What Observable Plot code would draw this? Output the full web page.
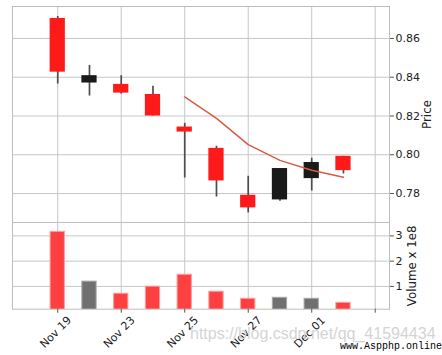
<!DOCTYPE html>
<html>
<head>
<meta charset="utf-8">
<script src="https://cdn.jsdelivr.net/npm/d3@7"></script>
<script src="https://cdn.jsdelivr.net/npm/@observablehq/plot@0.6"></script>
<style>
  html, body { margin: 0; padding: 0; background: #fff; }
  #wrap { position: relative; width: 442px; height: 355px; overflow: hidden; font-family: "DejaVu Sans", sans-serif; }
  #wrap svg { position: absolute; left: 0; background: transparent; }
  .wm1 { position: absolute; left: 190px; top: 325px; font-family: "Liberation Sans", Arial, sans-serif; font-size: 16px; color: #d4d4d4; white-space: nowrap; }
  .wm2 { position: absolute; left: 340px; top: 341px; font-family: "Liberation Mono", monospace; font-size: 10px; color: #000; white-space: nowrap; }
</style>
</head>
<body>
<div id="wrap"></div>
<script>
// ---- data ----
const dates  = ["Nov 19","Nov 20","Nov 23","Nov 24","Nov 25","Nov 26","Nov 27","Nov 30","Dec 01","Dec 02"];
const open   = [0.8703, 0.8370, 0.8363, 0.8311, 0.8143, 0.8033, 0.7791, 0.7767, 0.7877, 0.7992];
const high   = [0.8713, 0.8461, 0.8408, 0.8353, 0.8162, 0.8044, 0.7889, 0.7929, 0.7982, 0.7992];
const low    = [0.8365, 0.8303, 0.8313, 0.8200, 0.7880, 0.7782, 0.7700, 0.7760, 0.7813, 0.7901];
const close  = [0.8426, 0.8408, 0.8318, 0.8200, 0.8117, 0.7865, 0.7726, 0.7929, 0.7960, 0.7918];
const volume = [3.16e8, 1.19e8, 0.71e8, 0.99e8, 1.46e8, 0.79e8, 0.51e8, 0.55e8, 0.51e8, 0.35e8];
const maIndex = [4, 5, 6, 7, 8, 9];
const maValue = [0.8298, 0.8188, 0.8052, 0.7971, 0.7920, 0.7884];
const xTicks = [0, 2, 4, 6, 8, 10];
const priceTicks = [0.78, 0.80, 0.82, 0.84, 0.86];
const volumeTicks = [1e8, 2e8, 3e8];

const rows = dates.map((d, i) => ({i, date: d, open: open[i], high: high[i], low: low[i], close: close[i], volume: volume[i]}));
const ma = maIndex.map((i, k) => ({i, v: maValue[k]}));

const RED = "#ff1a1a", BLACK = "#1a1a1a", WICK = "#4d4d4d", GRID = "#c6c6c6", FRAME = "#bdbdbd";
const common = {width: 442, marginLeft: 12, marginRight: 53,
  style: {fontFamily: "DejaVu Sans, sans-serif", fontSize: "11px", color: "#222", background: "transparent"}};

const price = Plot.plot({
  ...common,
  height: 223, marginTop: 6, marginBottom: 1,
  x: {type: "linear", domain: [-1.425, 10.45], axis: null},
  y: {domain: [0.76506, 0.87648], axis: null},
  marks: [
    Plot.gridX(xTicks, {stroke: GRID, strokeOpacity: 1}),
    Plot.gridY(priceTicks, {stroke: GRID, strokeOpacity: 1}),
    Plot.frame({stroke: FRAME}),
    Plot.ruleX(rows, {x: "i", y1: "low", y2: "high", stroke: WICK, strokeWidth: 1.7}),
    Plot.rect(rows, {x1: d => d.i - 0.24, x2: d => d.i + 0.24, y1: "open", y2: "close",
      fill: d => d.close >= d.open ? BLACK : RED}),
    Plot.line(ma, {x: "i", y: "v", stroke: "#d95b45", strokeWidth: 1.5}),
    Plot.axisY(priceTicks, {anchor: "right", tickSize: 4, tickPadding: 2, stroke: "#555", tickFormat: d => d.toFixed(2), label: null, fontSize: 11, fill: "#222"}),
    Plot.text(["Price"], {frameAnchor: "right", dx: 37.5, rotate: -90, textAnchor: "middle", lineAnchor: "middle", fontSize: 11.8, fill: "#222", text: d => d})
  ]
});
price.style.top = "0px";

const vol = Plot.plot({
  ...common,
  height: 133, marginTop: 0, marginBottom: 46.3,
  x: {type: "linear", domain: [-1.425, 10.45]},
  y: {domain: [0.098e8, 3.53e8]},
  marks: [
    Plot.gridX(xTicks, {stroke: GRID, strokeOpacity: 1}),
    Plot.gridY(volumeTicks, {stroke: GRID, strokeOpacity: 1}),
    Plot.frame({stroke: FRAME}),
    Plot.rect(rows, {x1: d => d.i - 0.225, x2: d => d.i + 0.225, y1: 0, y2: "volume", clip: true,
      fill: d => d.close >= d.open ? "#707070" : "#ff4040",
      stroke: d => d.close >= d.open ? "#a8a8a8" : "#ff9c9c", strokeWidth: 1}),
    Plot.axisY(volumeTicks, {anchor: "right", tickSize: 4, tickPadding: 2, stroke: "#555", tickFormat: d => String(Math.round(d / 1e8)), label: null, fontSize: 11, fill: "#222"}),
    Plot.axisX(xTicks, {anchor: "bottom", tickSize: 4, stroke: "#555", tickFormat: () => "", label: null}),
    Plot.text(xTicks, {x: d => d, text: d => dates[d] ?? "", frameAnchor: "bottom", dy: 23, dx: -2, rotate: -45, textAnchor: "middle", lineAnchor: "middle", fontSize: 11, fill: "#222"}),
    Plot.text(["Volume x 1e8"], {frameAnchor: "right", dx: 22.5, rotate: -90, textAnchor: "middle", lineAnchor: "middle", fontSize: 11.8, fill: "#222", text: d => d})
  ]
});
vol.style.top = "222px";

const wrap = document.getElementById("wrap");
wrap.appendChild(price);
wrap.appendChild(vol);
const w1 = document.createElement("div"); w1.className = "wm1"; w1.textContent = "https://blog.csdn.net/qq_41594434"; wrap.appendChild(w1);
const w2 = document.createElement("div"); w2.className = "wm2"; w2.textContent = "www.Aspphp.online"; wrap.appendChild(w2);
</script>
</body>
</html>
